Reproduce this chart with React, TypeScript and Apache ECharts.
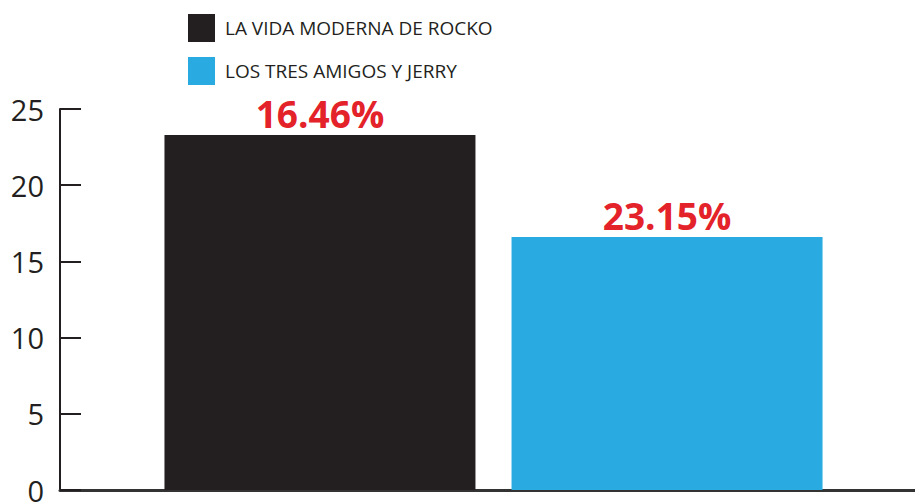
import React, { useEffect, useRef } from "react";
import * as echarts from "echarts";

const seriesNames = ["LA VIDA MODERNA DE ROCKO", "LOS TRES AMIGOS Y JERRY"];
const seriesValues = [23.3, 16.6];
const barLabels = ["16.46%", "23.15%"];
const seriesColors = ["#231f20", "#29abe2"];
const categories = [""];

export default function App() {
  const ref = useRef<HTMLDivElement>(null);
  useEffect(() => {
    if (!ref.current) return;
    const chart = echarts.init(ref.current, undefined, { renderer: "svg" });
    chart.setOption({
      animation: false,
      backgroundColor: "#ffffff",
      legend: {
        orient: "vertical",
        left: 188,
        top: 14,
        padding: 0,
        itemWidth: 27,
        itemHeight: 28,
        itemGap: 15,
        icon: "rect",
        textStyle: {
          fontFamily: "Open Sans",
          fontSize: 19,
          color: "#231f20",
          padding: [0, 0, 0, 5],
        },
        data: seriesNames,
      },
      grid: {
        left: 60,
        width: 867,
        top: 109,
        bottom: 13,
        containLabel: false,
        outerBoundsMode: "none",
      },
      xAxis: {
        type: "category",
        data: categories,
        axisLine: { lineStyle: { color: "#333333", width: 3 } },
        axisTick: { show: false },
        axisLabel: { show: false },
      },
      yAxis: {
        type: "value",
        min: 0,
        max: 25,
        interval: 5,
        axisLine: { show: true, lineStyle: { color: "#231f20", width: 2 } },
        axisTick: { show: true, inside: true, length: 21, lineStyle: { color: "#231f20", width: 2 } },
        splitLine: { show: false },
        axisLabel: {
          margin: 16,
          fontFamily: "Open Sans",
          fontSize: 29,
          color: "#231f20",
        },
      },
      series: seriesNames.map((name, i) => ({
        name,
        type: "bar",
        data: [seriesValues[i]],
        barWidth: 311,
        barGap: "11.6%",
        itemStyle: { color: seriesColors[i] },
        label: {
          show: true,
          position: "top",
          distance: 3,
          formatter: () => barLabels[i],
          fontFamily: "Open Sans",
          fontWeight: "bold",
          fontSize: 37,
          color: "#e3222a",
        },
      })),
    });
    return () => chart.dispose();
  }, []);
  return (
    <div
      ref={ref}
      style={{ position: "fixed", left: 0, top: 0, width: 915, height: 503 }}
    />
  );
}
